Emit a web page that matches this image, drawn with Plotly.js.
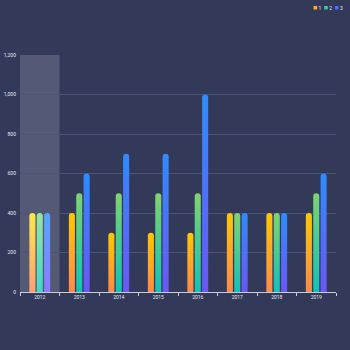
<!DOCTYPE html>
<html><head><meta charset="utf-8">
<script src="https://cdn.plot.ly/plotly-3.0.1.min.js"></script>
<style>html,body{margin:0;padding:0;background:#323959;}#chart{width:350px;height:350px;}</style>
</head><body><div id="chart"></div>
<script>
var years = ['2012','2013','2014','2015','2016','2017','2018','2019'];
var series1 = [400,400,300,300,300,400,400,400];
var series2 = [400,500,500,500,500,400,400,500];
var series3 = [400,600,700,700,1000,400,400,600];
var names = ['1','2','3'];
var gradTop = ['#ffc800','#80d46e','#2e8cff'];
var gradBot = ['#ff8a4a','#10c3b7','#6b57f5'];
var hiTop = ['#ffe84a','#9ae69a','#55a6ff'];
var hiBot = ['#ffa070','#3fd9cf','#8d7cff'];

var data = [series1,series2,series3].map(function(v,i){
  return {type:'bar', x:years, y:v, name:names[i],
    marker:{color:gradTop[i], cornerradius:'50%', line:{width:0}},
    hoverinfo:'none'};
});
var layout = {
  width:350, height:350,
  paper_bgcolor:'#323959', plot_bgcolor:'#323959',
  margin:{l:20,r:14,t:55,b:58},
  showlegend:false,
  bargap:0.44, bargroupgap:0.18,
  font:{family:'Roboto, sans-serif', color:'#e6e8f0', size:5},
  xaxis:{type:'category', tickson:'boundaries', ticks:'outside', ticklen:3, tickcolor:'#c8ccd8',
    showline:true, linecolor:'#c8ccd8', linewidth:1, showgrid:false, tickfont:{size:5,color:'#e6e8f0'}, fixedrange:true},
  yaxis:{range:[0,1200], dtick:200, tickformat:',', showline:false, zeroline:false,
    gridcolor:'#4b5377', gridwidth:1, tickfont:{size:5,color:'#e6e8f0'}, ticks:'', ticklabelstandoff:3, fixedrange:true},
  shapes:[{type:'rect', xref:'x', yref:'paper', x0:-0.5, x1:0.5, y0:0, y1:1,
    fillcolor:'rgba(255,255,255,0.17)', line:{width:0}, layer:'below'}],
  annotations:[{xref:'paper', yref:'paper', x:1.03, y:1.2, xanchor:'right', yanchor:'middle', showarrow:false,
    font:{size:5,color:'#e6e8f0'},
    text:'<span style="color:#ffb020;font-size:7px">■</span> 1  <span style="color:#3ccf9a;font-size:7px">■</span> 2  <span style="color:#4a72ff;font-size:7px">■</span> 3'}]
};
Plotly.newPlot('chart', data, layout, {displayModeBar:false, staticPlot:true}).then(function(gd){
  var svg = gd.querySelector('svg.main-svg');
  var ns = 'http://www.w3.org/2000/svg';
  var defs = svg.querySelector('defs') || svg.insertBefore(document.createElementNS(ns,'defs'), svg.firstChild);
  function mk(id, top, bot){
    var g = document.createElementNS(ns,'linearGradient');
    g.setAttribute('id',id); g.setAttribute('x1','0'); g.setAttribute('y1','0'); g.setAttribute('x2','0'); g.setAttribute('y2','1');
    [[0,top],[1,bot]].forEach(function(s){
      var st = document.createElementNS(ns,'stop'); st.setAttribute('offset',s[0]); st.setAttribute('stop-color',s[1]); g.appendChild(st);
    });
    defs.appendChild(g);
  }
  for (var i=0;i<3;i++){ mk('g'+i, gradTop[i], gradBot[i]); mk('h'+i, hiTop[i], hiBot[i]); }
  var traces = gd.querySelectorAll('g.trace.bars');
  traces.forEach(function(t, i){
    t.querySelectorAll('g.point path').forEach(function(p, j){
      p.style.fill = 'url(#' + (j===0 ? 'h' : 'g') + i + ')';
      p.style.fillOpacity = 1;
    });
  });
});
</script></body></html>
